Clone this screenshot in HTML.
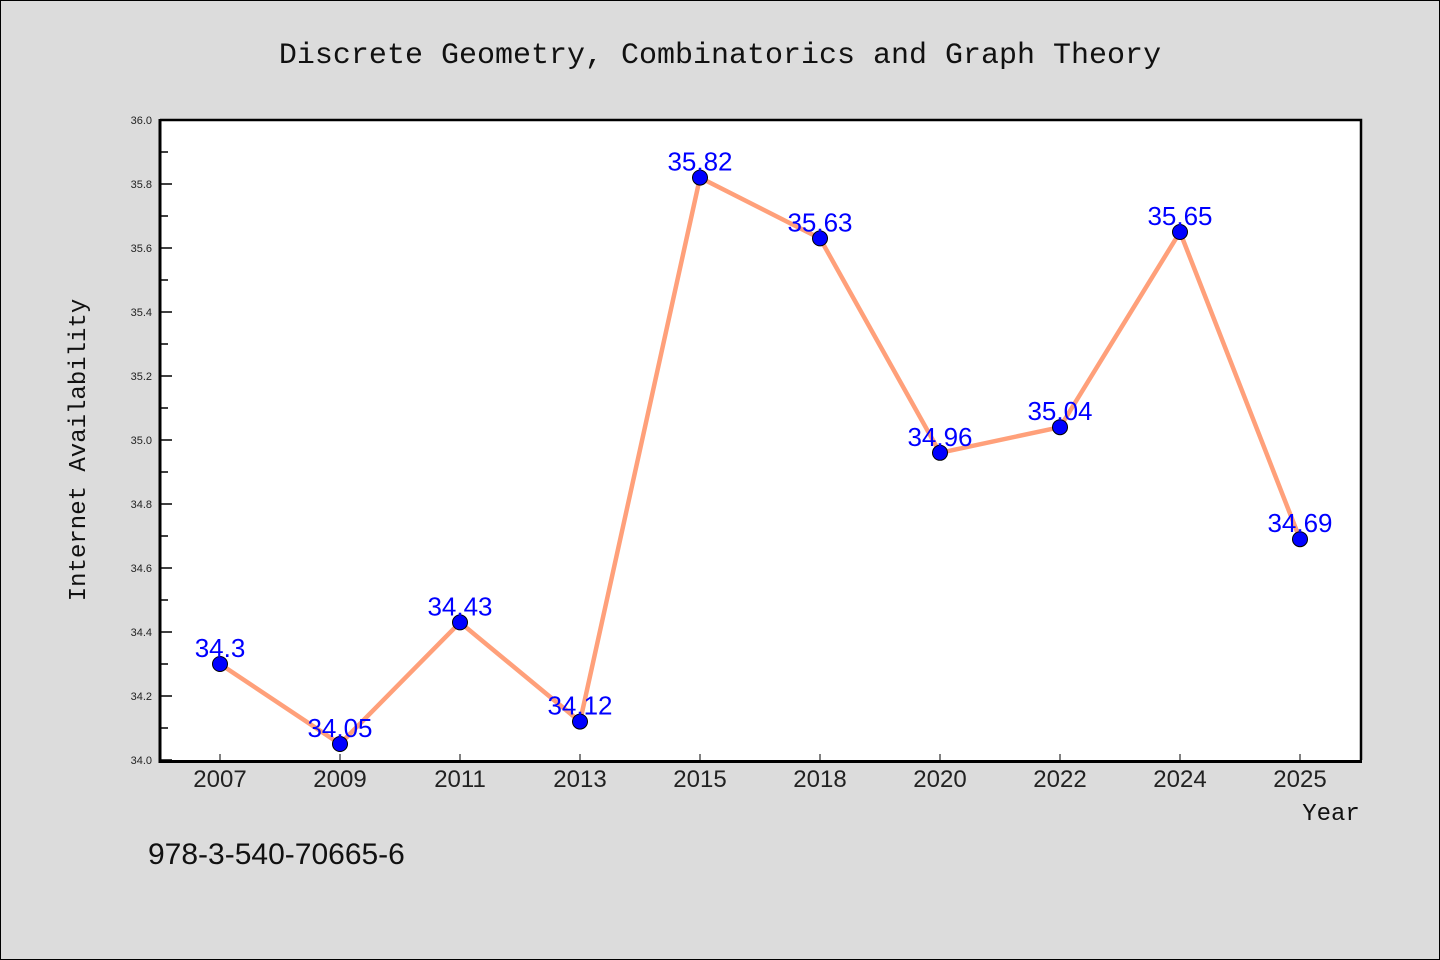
<!DOCTYPE html>
<html><head><meta charset="utf-8"><style>
body{margin:0;background:#dcdcdc;}
svg{display:block;font-family:"Liberation Mono","DejaVu Sans Mono",monospace;}
</style></head><body>
<svg id="chart" width="1440" height="960">
<rect x="0.5" y="0.5" width="1439" height="959" fill="#dcdcdc" stroke="#000"/>
<text x="720" y="63" text-anchor="middle" font-size="30" fill="#111">Discrete Geometry, Combinatorics and Graph Theory</text>
<rect x="160" y="120" width="1201" height="640" fill="#fff"/>
<g id="yticks"></g>
<g id="xticks"></g>
<g id="series"></g>
<path d="M160,120 H1361 V760" fill="none" stroke="#000" stroke-width="2.5"/>
<path d="M160,119 V761.5 H1362" fill="none" stroke="#000" stroke-width="3"/>
<text transform="translate(85,450) rotate(-90)" text-anchor="middle" font-size="24" fill="#111">Internet Availability</text>
<text x="1331" y="820" text-anchor="middle" font-size="24" fill="#111">Year</text>
<text x="148" y="864" font-size="30" fill="#111" font-family="Liberation Sans, sans-serif">978-3-540-70665-6</text>
</svg>
<script>
const categories=["2007","2009","2011","2013","2015","2018","2020","2022","2024","2025"];
const values=[34.3,34.05,34.43,34.12,35.82,35.63,34.96,35.04,35.65,34.69];
const valueLabels=["34.3","34.05","34.43","34.12","35.82","35.63","34.96","35.04","35.65","34.69"];
const yTickLabels=["34.0","34.2","34.4","34.6","34.8","35.0","35.2","35.4","35.6","35.8","36.0"];
const NS="http://www.w3.org/2000/svg";
const L=160,R=1360,T=120,B=760,Y0=34.0,Y1=36.0;
const x=i=>L+(R-L)/categories.length*(i+0.5);
const y=v=>B-(v-Y0)/(Y1-Y0)*(B-T);
function mk(t,a,p){const e=document.createElementNS(NS,t);for(const k in a)e.setAttribute(k,a[k]);p.appendChild(e);return e;}
const yg=document.getElementById('yticks');
yTickLabels.forEach((lab,i)=>{const v=parseFloat(lab);const yy=y(v);
 const t=mk('line',{x1:L,x2:L+12,y1:yy,y2:yy,stroke:'#000','stroke-width':1.5},yg);
 
 
 const tx=mk('text',{x:L-8,y:yy+4,'text-anchor':'end','font-size':11,fill:'#222','font-family':'Liberation Sans, sans-serif'},yg);
 tx.textContent=lab;
 
 
 if(i<yTickLabels.length-1){const ym=y(v+0.1);
  const m=mk('line',{x1:L,x2:L+8,y1:ym,y2:ym,stroke:'#000','stroke-width':1.5},yg);
  
  }
});
const xg=document.getElementById('xticks');
categories.forEach((c,i)=>{
 const t=mk('line',{x1:x(i),x2:x(i),y1:B,y2:B-6,stroke:'#000','stroke-width':1},xg);
 
 
 const tx=mk('text',{x:x(i),y:B+27,'text-anchor':'middle','font-size':24,fill:'#222','font-family':'Liberation Sans, sans-serif'},xg);
 tx.textContent=c;
 
 
});
const sg=document.getElementById('series');
const pl=mk('polyline',{points:values.map((v,i)=>x(i)+','+y(v)).join(' '),fill:'none',stroke:'#ffa07a','stroke-width':4.5,'stroke-linejoin':'round'},sg);


values.forEach((v,i)=>{
 const c=mk('circle',{cx:x(i),cy:y(v),r:7.5,fill:'#0000ff',stroke:'#000','stroke-width':1},sg);
 
 
 const t=mk('text',{x:x(i),y:y(v)-7,'text-anchor':'middle','font-size':26,fill:'#0000ff','font-family':'Liberation Sans, sans-serif'},sg);
 t.textContent=valueLabels[i];
 
 
});
</script>
</body></html>
